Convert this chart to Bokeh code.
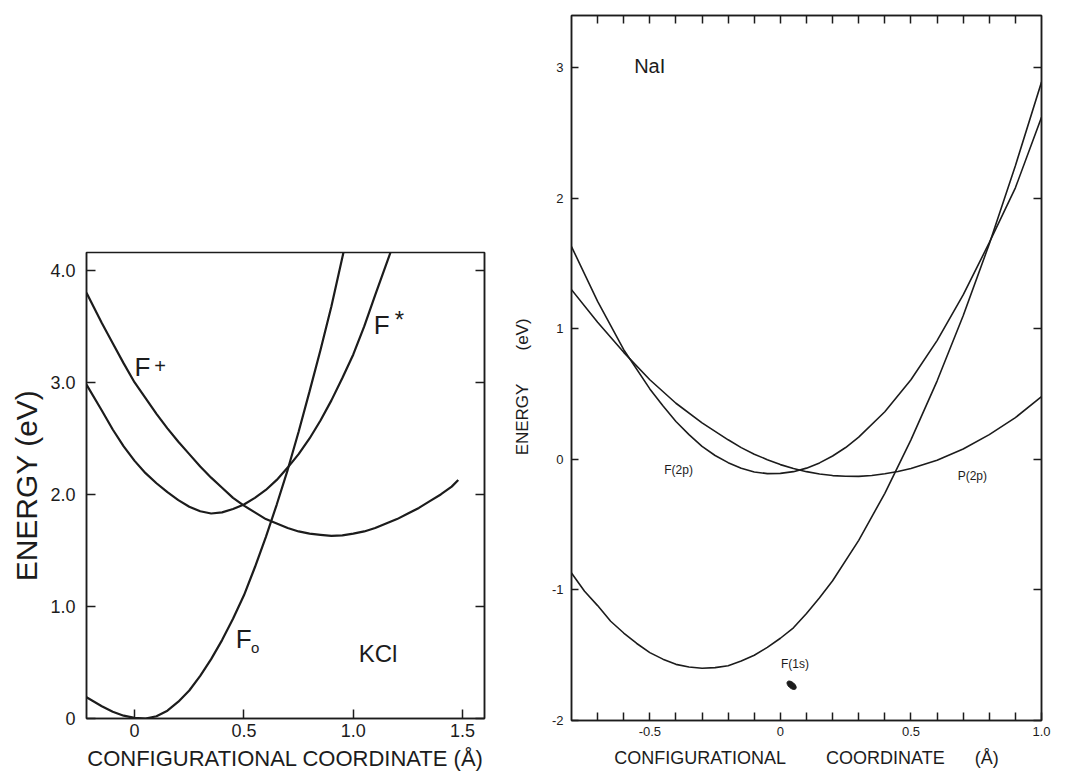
from bokeh.plotting import figure
from bokeh.models import FixedTicker, LinearAxis, Label, Range1d
from bokeh.layouts import row
from bokeh.embed import file_html
from bokeh.resources import INLINE

FONT = "Liberation Sans"
INK = "#1c1c1c"
NB = "\u00a0"

# ---------------- KCl panel (left) ----------------
kcl_x_ticks = [0, 0.5, 1, 1.5]
kcl_x_labels = ["0", "0.5", "1.0", "1.5"]
kcl_y_ticks = [0, 1, 2, 3, 4]
kcl_y_labels = ["0", "1.0", "2.0", "3.0", "4.0"]

# F0 (ground state)
kcl_f0_x = [-0.22, -0.15, -0.1, -0.05, 0.0, 0.05, 0.1, 0.15, 0.2, 0.25, 0.3, 0.35, 0.4, 0.45,
            0.5, 0.55, 0.6, 0.65, 0.7, 0.75, 0.8, 0.85, 0.9, 0.955]
kcl_f0_y = [0.19, 0.11, 0.06, 0.025, 0.005, 0.0, 0.02, 0.07, 0.15, 0.25, 0.38, 0.53, 0.70, 0.89,
            1.10, 1.35, 1.62, 1.91, 2.22, 2.56, 2.92, 3.29, 3.68, 4.16]
# F+ (ionised)
kcl_fplus_x = [-0.22, -0.15, -0.1, -0.05, 0.0, 0.05, 0.1, 0.15, 0.2, 0.25, 0.3, 0.35, 0.4, 0.45,
               0.5, 0.55, 0.6, 0.65, 0.7, 0.75, 0.8, 0.85, 0.9, 0.95, 1.0, 1.05, 1.1, 1.15,
               1.2, 1.25, 1.3, 1.35, 1.4, 1.45, 1.48]
kcl_fplus_y = [3.80, 3.53, 3.35, 3.17, 3.00, 2.86, 2.72, 2.59, 2.47, 2.36, 2.25, 2.15, 2.06, 1.97,
               1.90, 1.84, 1.78, 1.74, 1.70, 1.67, 1.65, 1.64, 1.63, 1.635, 1.65, 1.67, 1.70, 1.74,
               1.78, 1.83, 1.88, 1.94, 2.00, 2.07, 2.13]
# F* (excited)
kcl_fstar_x = [-0.22, -0.15, -0.1, -0.05, 0.0, 0.05, 0.1, 0.15, 0.2, 0.25, 0.3, 0.35, 0.4, 0.45,
               0.5, 0.55, 0.6, 0.65, 0.7, 0.75, 0.8, 0.85, 0.9, 0.95, 1.0, 1.05, 1.1, 1.17]
kcl_fstar_y = [2.98, 2.75, 2.58, 2.43, 2.30, 2.19, 2.10, 2.02, 1.95, 1.89, 1.85, 1.83, 1.84, 1.87,
               1.91, 1.97, 2.04, 2.13, 2.24, 2.36, 2.50, 2.66, 2.84, 3.04, 3.25, 3.50, 3.78, 4.16]

# ---------------- NaI panel (right) ----------------
nai_x_ticks = [-0.5, 0, 0.5, 1]
nai_x_labels = ["-0.5", "0", "0.5", "1.0"]
nai_x_minor = [-0.7, -0.6, -0.4, -0.3, -0.2, -0.1, 0.1, 0.2, 0.3, 0.4, 0.6, 0.7, 0.8, 0.9]
nai_x_all = [-0.7, -0.6, -0.5, -0.4, -0.3, -0.2, -0.1, 0, 0.1, 0.2, 0.3, 0.4, 0.5, 0.6, 0.7, 0.8, 0.9]
nai_y_ticks = [-2, -1, 0, 1, 2, 3]
nai_y_labels = ["-2", "-1", "0", "1", "2", "3"]

nai_f1s_x = [-0.8, -0.75, -0.7, -0.65, -0.6, -0.55, -0.5, -0.45, -0.4, -0.35, -0.3, -0.25, -0.2,
             -0.15, -0.1, -0.05, 0.0, 0.05, 0.1, 0.15, 0.2, 0.3, 0.4, 0.5, 0.6, 0.7, 0.8, 0.9, 1.0]
nai_f1s_y = [-0.87, -1.01, -1.12, -1.24, -1.33, -1.41, -1.48, -1.53, -1.57, -1.59, -1.60, -1.595, -1.58,
             -1.545, -1.50, -1.44, -1.37, -1.29, -1.18, -1.06, -0.93, -0.62, -0.26, 0.15, 0.60, 1.10, 1.65, 2.25, 2.89]

nai_f2p_x = [-0.8, -0.7, -0.6, -0.5, -0.45, -0.4, -0.35, -0.3, -0.25, -0.2, -0.15, -0.1, -0.05, 0.0,
             0.05, 0.1, 0.15, 0.2, 0.25, 0.3, 0.4, 0.5, 0.6, 0.7, 0.8, 0.9, 1.0]
nai_f2p_y = [1.63, 1.21, 0.84, 0.54, 0.41, 0.29, 0.19, 0.10, 0.03, -0.025, -0.068, -0.096, -0.109, -0.107,
             -0.094, -0.067, -0.027, 0.026, 0.091, 0.17, 0.365, 0.61, 0.91, 1.26, 1.66, 2.08, 2.62]

nai_p2p_x = [-0.8, -0.7, -0.6, -0.5, -0.4, -0.3, -0.2, -0.15, -0.1, -0.05, 0.0, 0.05, 0.1, 0.15, 0.2,
             0.25, 0.3, 0.35, 0.4, 0.45, 0.5, 0.6, 0.7, 0.8, 0.9, 1.0]
nai_p2p_y = [1.30, 1.05, 0.82, 0.61, 0.43, 0.28, 0.15, 0.09, 0.04, -0.002, -0.04, -0.07, -0.094, -0.112, -0.124,
             -0.1295, -0.13, -0.123, -0.11, -0.093, -0.07, -0.006, 0.08, 0.19, 0.32, 0.48]

smudge_x = [0.043]
smudge_y = [-1.73]


def style_axis(ax, size, standoff, tick_len=9):
    ax.axis_line_color = INK
    ax.axis_line_width = 1.5
    ax.major_tick_line_color = INK
    ax.major_tick_line_width = 1.5
    ax.major_tick_in = tick_len
    ax.major_tick_out = 0
    ax.minor_tick_line_color = INK
    ax.minor_tick_line_width = 1.5
    ax.minor_tick_in = tick_len
    ax.minor_tick_out = 0
    ax.major_label_text_font = FONT
    ax.major_label_text_font_size = size
    ax.major_label_text_color = INK
    ax.major_label_standoff = standoff
    ax.axis_label_text_font = FONT
    ax.axis_label_text_font_style = "normal"
    ax.axis_label_text_color = INK


def tick_only_axis(ticks, tick_len):
    ax = LinearAxis(ticker=FixedTicker(ticks=[], minor_ticks=ticks))
    style_axis(ax, "12px", 0, tick_len)
    return ax


# ---------- left figure ----------
p1 = figure(width=505, height=781, output_backend="svg", toolbar_location=None,
            x_range=Range1d(-0.22, 1.60), y_range=Range1d(0, 4.16),
            min_border_left=86, min_border_right=21, min_border_top=252, min_border_bottom=63)
p1.frame_align = False
p1.grid.visible = False
p1.outline_line_color = INK
p1.outline_line_width = 1.5
p1.background_fill_color = "white"
p1.border_fill_color = "white"

p1.xaxis.ticker = FixedTicker(ticks=kcl_x_ticks)
p1.xaxis.major_label_overrides = dict(zip(kcl_x_ticks, kcl_x_labels))
p1.yaxis.ticker = FixedTicker(ticks=kcl_y_ticks)
p1.yaxis.major_label_overrides = dict(zip(kcl_y_ticks, kcl_y_labels))
for ax in p1.xaxis:
    style_axis(ax, "18px", 5)
    ax.axis_label = "CONFIGURATIONAL COORDINATE (Å)"
    ax.axis_label_text_font_size = "22px"
    ax.axis_label_standoff = 6
for ax in p1.yaxis:
    style_axis(ax, "18px", 11)
    ax.axis_label = "ENERGY (eV)"
    ax.axis_label_text_font_size = "30px"
    ax.axis_label_standoff = 4

p1.add_layout(tick_only_axis(kcl_y_ticks, 9), "right")

for xs, ys in [(kcl_f0_x, kcl_f0_y), (kcl_fplus_x, kcl_fplus_y), (kcl_fstar_x, kcl_fstar_y)]:
    p1.line(xs, ys, line_color=INK, line_width=2.2)


def lab(p, x, y, t, size, **kw):
    p.add_layout(Label(x=x, y=y, text=t, text_font=FONT, text_font_size=size,
                       text_color=INK, **kw))


lab(p1, 0.0, 3.0, "F", "26px")
lab(p1, 0.09, 3.08, "+", "20px")
lab(p1, 1.093, 3.38, "F", "26px")
lab(p1, 1.19, 3.44, "*", "24px")
lab(p1, 0.463, 0.58, "F", "26px")
lab(p1, 0.532, 0.555, "o", "15px")
lab(p1, 1.025, 0.46, "KCl", "24px")

# ---------- right figure ----------
p2 = figure(width=564, height=781, output_backend="svg", toolbar_location=None,
            x_range=Range1d(-0.8, 1.0), y_range=Range1d(-2, 3.4),
            min_border_left=66, min_border_right=28, min_border_top=15, min_border_bottom=61)
p2.frame_align = False
p2.grid.visible = False
p2.outline_line_color = INK
p2.outline_line_width = 1.5
p2.background_fill_color = "white"
p2.border_fill_color = "white"

p2.xaxis.ticker = FixedTicker(ticks=nai_x_ticks, minor_ticks=nai_x_minor)
p2.xaxis.major_label_overrides = dict(zip(nai_x_ticks, nai_x_labels))
p2.yaxis.ticker = FixedTicker(ticks=nai_y_ticks)
p2.yaxis.major_label_overrides = dict(zip(nai_y_ticks, nai_y_labels))
for ax in p2.xaxis:
    style_axis(ax, "13px", 6, 8)
    ax.axis_label = "CONFIGURATIONAL" + NB * 8 + "COORDINATE" + NB * 6 + "(Å)"
    ax.axis_label_text_font_size = "18px"
    ax.axis_label_standoff = 9
for ax in p2.yaxis:
    style_axis(ax, "13px", 8, 7)
    ax.axis_label = "ENERGY" + NB * 7 + "(eV)" + NB * 8
    ax.axis_label_text_font_size = "17px"
    ax.axis_label_standoff = 17

p2.add_layout(tick_only_axis(nai_x_all, 8), "above")
p2.add_layout(tick_only_axis(nai_y_ticks, 8), "right")

for xs, ys in [(nai_f1s_x, nai_f1s_y), (nai_f2p_x, nai_f2p_y), (nai_p2p_x, nai_p2p_y)]:
    p2.line(xs, ys, line_color=INK, line_width=1.6)

p2.ellipse(x=smudge_x, y=smudge_y, width=11, height=6, width_units="screen",
           height_units="screen", angle=-0.7, fill_color=INK, line_color=INK)

lab(p2, -0.56, 2.93, "NaI", "20px")
lab(p2, -0.39, -0.085, "F(2p)", "12px", text_align="center", text_baseline="middle")
lab(p2, 0.735, -0.13, "P(2p)", "12px", text_align="center", text_baseline="middle")
lab(p2, 0.056, -1.57, "F(1s)", "12px", text_align="center", text_baseline="middle")

layout = row(p1, p2, spacing=0)
open("out.html", "w").write(file_html(layout, INLINE))
